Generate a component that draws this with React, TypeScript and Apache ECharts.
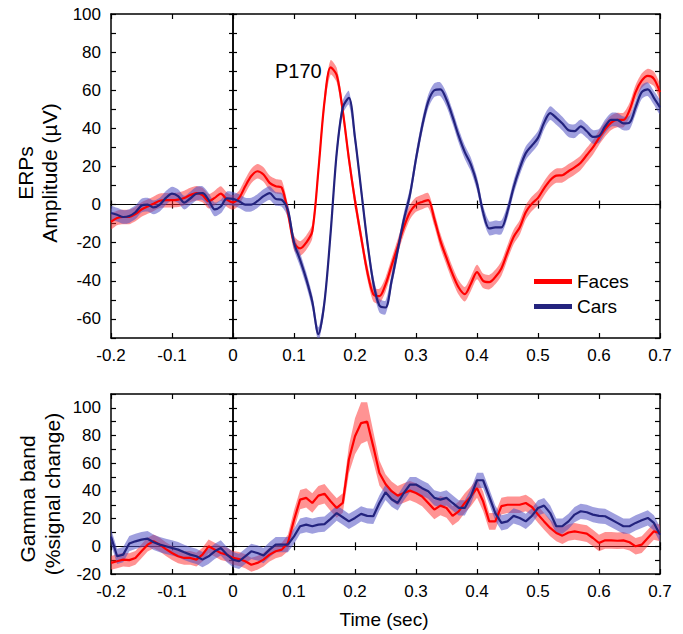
import React, { useEffect, useRef } from "react";
import * as echarts from "echarts";

// Time axis (s), shared by both panels
const time = [
  -0.2, -0.19, -0.18, -0.17, -0.16, -0.15, -0.14, -0.13, -0.12, -0.11,
  -0.1, -0.09, -0.08, -0.07, -0.06, -0.05, -0.04, -0.03, -0.02, -0.01,
  0, 0.01, 0.02, 0.03, 0.04, 0.05, 0.06, 0.07, 0.08, 0.09,
  0.1, 0.11, 0.12, 0.13, 0.14, 0.15, 0.16, 0.17, 0.18, 0.19,
  0.2, 0.21, 0.22, 0.23, 0.24, 0.25, 0.26, 0.27, 0.28, 0.29,
  0.3, 0.31, 0.32, 0.33, 0.34, 0.35, 0.36, 0.37, 0.38, 0.39,
  0.4, 0.41, 0.42, 0.43, 0.44, 0.45, 0.46, 0.47, 0.48, 0.49,
  0.5, 0.51, 0.52, 0.53, 0.54, 0.55, 0.56, 0.57, 0.58, 0.59,
  0.6, 0.61, 0.62, 0.63, 0.64, 0.65, 0.66, 0.67, 0.68, 0.69,
  0.7,
];

// ERP amplitude (µV)
const erpFaces = [
  -9, -7, -6.5, -6.5, -5, -2.6, -1, 0.5, 2, 2.3,
  2.3, 2.6, 3.5, 5, 6, 5, 1.8, 3.5, 5.8, 2.6,
  1.2, 3.5, 9.6, 15, 17.5, 15.8, 11.4, 9.6, 8.8, -4,
  -20, -23, -20, -14, 18, 54, 72, 68, 49, 24,
  2, -17, -35, -47, -48, -42, -32, -22, -12, -4,
  0, 1.4, 2.3, -7.5, -19, -28, -36.5, -43.5, -47, -41.5,
  -35.4, -40, -40.7, -38, -33.5, -25, -17, -12, -4, 0.5,
  3.5, 8.5, 12.8, 15.2, 15.4, 17.5, 19.5, 22, 26, 30,
  35, 39.5, 43, 44.4, 44.4, 49.5, 59, 65, 67.5, 66,
  59,
];
const erpCars = [
  -4.4, -5.3, -6.5, -6, -4, -0.5, 0, -1.5, 0, 3.5,
  5.8, 4.5, 1, 3.2, 5.7, 6, 2.5, -2.5, -1, 3.3,
  3, 1.8, 0, 0, 1.8, 4.4, 6, 3, 2.5, -3,
  -20, -29, -39, -51, -68, -51, -15, 27, 51, 56,
  35, 8, -19, -41, -53, -54, -40, -24, -8, 5,
  24, 41, 54, 60, 60.5, 55, 46, 36, 27.5, 21,
  11, -4, -12.5, -12, -12, -3.5, 9, 19, 27, 31,
  35, 43, 48, 45.5, 42.5, 39, 38.5, 41, 38.5, 35.5,
  36, 41, 44.5, 44.5, 42.6, 43, 51, 59, 60.5, 56,
  51,
];
const erpFacesSem = 3.8;
const erpCarsSem = 3.6;

// Gamma band (% signal change)
const gammaFaces = [
  -12, -10.8, -9.6, -10, -8.4, -3.6, 1.2, 3.6, 1.2, -2,
  -4.8, -7.2, -8.4, -8.4, -9.6, -6, 0, -2.4, -4.8, -6,
  -8.4, -9.2, -10.8, -13.3, -12, -9.6, -6, -3.6, -2.4, 2.4,
  19, 33.7, 35, 31.3, 36.6, 38, 32.5, 27.7, 31.3, 62.7,
  79.5, 89, 90, 72, 53, 45, 39.8, 36.6, 38.5, 40.2,
  38.5, 36, 31.3, 26.5, 29.4, 27.7, 22, 25.3, 31.3, 36,
  42, 32.5, 18, 18, 29, 30, 30, 30, 31.3, 28.4,
  23, 18, 13.3, 9.6, 7.7, 10, 10.8, 10, 9.2, 6,
  2.4, 4.3, 4.3, 4, 4.3, 2.9, 0, 1.2, 6, 10.8,
  9.6,
];
const gammaFacesSem = [
  5, 5, 5, 5, 5, 5, 5, 5, 5, 5,
  5, 5, 5, 5, 5, 5, 5, 5, 5, 5,
  5, 5, 5, 5, 5, 5, 5, 5, 5, 6,
  7, 7, 7, 7, 7, 7, 7, 7, 7, 10,
  13, 15, 14, 11, 9, 7, 7, 7, 7, 7,
  7, 7, 7, 7, 7, 7, 7, 7, 7, 7,
  7, 7, 6, 6, 6, 6, 6, 6, 6, 6,
  6, 6, 6, 6, 6, 6, 6, 6, 6, 6,
  6, 6, 6, 6, 6, 6, 6, 6, 6, 6,
  6,
];
const gammaCars = [
  7, -7.2, -6, 2, 3.6, 4.8, 5.5, 2.9, 1.2, 0,
  -1.2, -2.4, -4.3, -6, -7.2, -9.6, -7.2, -3.6, -1.2, -6,
  -9.6, -10.8, -7.2, -3.6, -4.8, -6.7, -2.4, 1.2, 1.2, 1.2,
  7.2, 14.5, 15.7, 14.5, 15.7, 16, 19.8, 24, 21, 18,
  20.5, 23.4, 22, 21.7, 31.3, 39, 34, 31.3, 38.5, 44.6,
  44.6, 42, 39.8, 35, 33.7, 35, 31.3, 27.7, 27.7, 36,
  47.7, 47.7, 36, 24, 16.9, 18, 22, 20.5, 18, 22,
  27.7, 29.4, 24, 14.5, 14.5, 18, 22.9, 25.3, 24.6, 22.9,
  22, 21.7, 19.3, 16.9, 14.5, 14.5, 16.9, 18.8, 20.5, 16.9,
  8.4,
];
const gammaCarsSem = 5.5;

const xTicks = { min: -0.2, max: 0.7, interval: 0.1 };
const erpRange = { min: -70, max: 100, interval: 10 };
const gammaRange = { min: -20, max: 110, interval: 10 };

const RED = "#ff0000";
const BLUE = "#23237e";
const RED_BAND = "rgba(255,40,40,0.5)";
const BLUE_BAND = "rgba(80,80,195,0.55)";
const FONT = "'Liberation Sans', Arial, Helvetica, sans-serif";

export default function App() {
  const ref = useRef<HTMLDivElement>(null);

  useEffect(() => {
    if (!ref.current) return;
    const chart = echarts.init(ref.current, undefined, { renderer: "svg" });

    const axisLineStyle = { color: "#000", width: 1.5 };
    const grids = [
      { left: 111, top: 14, width: 549, height: 324 },
      { left: 111, top: 394, width: 549, height: 180 },
    ];
    const ranges = [erpRange, gammaRange];

    const xAxes: any[] = [];
    const yAxes: any[] = [];
    grids.forEach((_, gi) => {
      const base = gi * 4;
      const common = {
        type: "value",
        gridIndex: gi,
        ...xTicks,
        splitLine: { show: false },
      };
      xAxes.push({
        ...common,
        position: "bottom",
        axisLine: { onZero: false, lineStyle: axisLineStyle },
        axisTick: { inside: true, length: 5, lineStyle: { color: "#000", width: 1.2 } },
        axisLabel: {
          color: "#000",
          fontSize: 17,
          fontFamily: FONT,
          margin: 9,
          formatter: (v: number) => {
            const r = Math.round(v * 10) / 10;
            return r === 0 ? "0" : String(r);
          },
        },
      });
      xAxes.push({
        ...common,
        position: "top",
        axisLine: { onZero: false, lineStyle: axisLineStyle },
        axisTick: { inside: true, length: 5, lineStyle: { color: "#000", width: 1.2 } },
        axisLabel: { show: false },
      });
      [true, false].forEach((inside) => {
        xAxes.push({
          ...common,
          position: "bottom",
          axisLine: { onZero: true, onZeroAxisIndex: base, lineStyle: { color: "#000", width: 1.2 } },
          axisTick: { inside, length: 4, lineStyle: { color: "#000", width: 1.2 } },
          axisLabel: { show: false },
        });
      });

      const yc = {
        type: "value",
        gridIndex: gi,
        ...ranges[gi],
        splitLine: { show: false },
      };
      yAxes.push({
        ...yc,
        position: "left",
        axisLine: { onZero: false, lineStyle: axisLineStyle },
        axisTick: { inside: true, length: 5, lineStyle: { color: "#000", width: 1.2 } },
        axisLabel: {
          color: "#000",
          fontSize: 17,
          fontFamily: FONT,
          margin: 10,
          formatter: (v: number) => {
            const r = Math.round(v);
            return r % 20 === 0 ? String(r) : "";
          },
        },
      });
      yAxes.push({
        ...yc,
        position: "right",
        axisLine: { onZero: false, lineStyle: axisLineStyle },
        axisTick: { inside: true, length: 5, lineStyle: { color: "#000", width: 1.2 } },
        axisLabel: { show: false },
      });
      [true, false].forEach((inside) => {
        yAxes.push({
          ...yc,
          position: "left",
          axisLine: { onZero: true, onZeroAxisIndex: base, lineStyle: { color: "#000", width: 1.5 } },
          axisTick: { inside, length: 4, lineStyle: { color: "#000", width: 1.2 } },
          axisLabel: { show: false },
        });
      });
    });

    // Shaded ±SEM band drawn as one polygon through the axes' own scales.
    const band = (
      gi: number,
      name: string,
      mean: number[],
      sem: number[] | number,
      color: string,
      smooth: number
    ) => {
      const s = (i: number) => (Array.isArray(sem) ? sem[i] : sem);
      return {
        type: "custom",
        name,
        xAxisIndex: gi * 4,
        yAxisIndex: gi * 4,
        silent: true,
        clip: true,
        data: [[time[0], mean[0]]],
        renderItem: (_params: any, api: any) => {
          const upper = time.map((t, i) => api.coord([t, mean[i] + s(i)]));
          const lower = time.map((t, i) => api.coord([t, mean[i] - s(i)])).reverse();
          return {
            type: "polygon",
            shape: { points: upper.concat(lower), smooth },
            style: { fill: color, stroke: null },
          };
        },
      };
    };
    const line = (gi: number, name: string, mean: number[], color: string, smooth: number | boolean) => ({
      type: "line",
      name,
      xAxisIndex: gi * 4,
      yAxisIndex: gi * 4,
      symbol: "none",
      smooth,
      itemStyle: { color },
      lineStyle: { color, width: 2.2 },
      data: time.map((t, i) => [t, mean[i]]),
    });

    const option: any = {
      animation: false,
      backgroundColor: "#fff",
      textStyle: { fontFamily: FONT },
      grid: grids.map((g) => ({ ...g, containLabel: false })),
      xAxis: xAxes,
      yAxis: yAxes,
      legend: {
        data: ["Faces", "Cars"],
        left: 534,
        top: 272,
        orient: "vertical",
        icon: "rect",
        itemWidth: 38,
        itemHeight: 5,
        itemGap: 6,
        padding: 0,
        selectedMode: false,
        textStyle: { fontSize: 19, color: "#000", fontFamily: FONT },
      },
      series: [
        band(0, "Faces band", erpFaces, erpFacesSem, RED_BAND, 0.25),
        band(0, "Cars band", erpCars, erpCarsSem, BLUE_BAND, 0.25),
        line(0, "Faces", erpFaces, RED, 0.3),
        line(0, "Cars", erpCars, BLUE, 0.3),
        band(1, "Faces band", gammaFaces, gammaFacesSem, RED_BAND, 0),
        band(1, "Cars band", gammaCars, gammaCarsSem, BLUE_BAND, 0),
        line(1, "Faces", gammaFaces, RED, false),
        line(1, "Cars", gammaCars, BLUE, false),
      ],
      graphic: [
        { type: "text", left: 275, top: 61, style: { text: "P170", fontSize: 20, fill: "#000", fontFamily: FONT } },
        { type: "text", x: 25, y: 173, rotation: Math.PI / 2, style: { text: "ERPs", fontSize: 21, fill: "#000", fontFamily: FONT, align: "center", verticalAlign: "middle" } },
        { type: "text", x: 49, y: 173, rotation: Math.PI / 2, style: { text: "Amplitude (µV)", fontSize: 21, fill: "#000", fontFamily: FONT, align: "center", verticalAlign: "middle" } },
        { type: "text", x: 27, y: 499, rotation: Math.PI / 2, style: { text: "Gamma band", fontSize: 21, fill: "#000", fontFamily: FONT, align: "center", verticalAlign: "middle" } },
        { type: "text", x: 52, y: 494, rotation: Math.PI / 2, style: { text: "(%signal change)", fontSize: 21, fill: "#000", fontFamily: FONT, align: "center", verticalAlign: "middle" } },
        { type: "text", x: 384, y: 619, style: { text: "Time (sec)", fontSize: 19, fill: "#000", fontFamily: FONT, align: "center", verticalAlign: "middle" } },
      ],
    };

    chart.setOption(option);
    return () => chart.dispose();
  }, []);

  return (
    <div
      ref={ref}
      style={{ position: "absolute", left: 0, top: 0, width: 683, height: 634, background: "#fff" }}
    />
  );
}
